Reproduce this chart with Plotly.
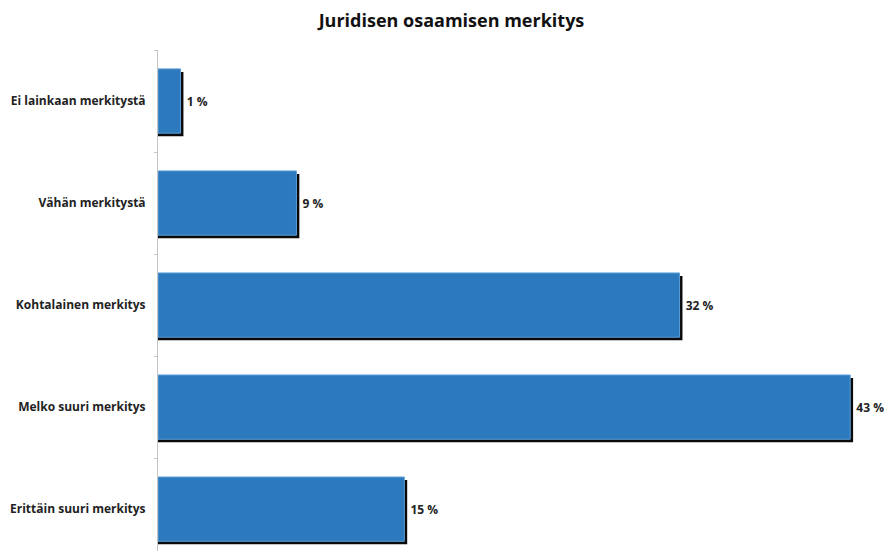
import plotly.graph_objects as go

categories = ["Ei lainkaan merkitystä", "Vähän merkitystä", "Kohtalainen merkitys",
              "Melko suuri merkitys", "Erittäin suuri merkitys"]
values = [1.4, 8.6, 32.4, 43.0, 15.3]
labels = ["1 %", "9 %", "32 %", "43 %", "15 %"]
title = "Juridisen osaamisen merkitys"

BAR_W = 0.63
SHADOW_DX = 0.18
SHADOW_DY = 0.03

fig = go.Figure()
# shadow (dark, offset down/right)
fig.add_trace(go.Bar(
    y=categories, x=[v + SHADOW_DX for v in values], orientation="h",
    width=BAR_W, offset=-BAR_W / 2 + SHADOW_DY,
    marker=dict(color="#0a0a0a", line=dict(width=0)),
    hoverinfo="skip", showlegend=False,
))
# main bars
fig.add_trace(go.Bar(
    y=categories, x=values, orientation="h",
    width=BAR_W, offset=-BAR_W / 2,
    marker=dict(color="#2c79bd", line=dict(color="#5e9fd8", width=1)),
    text=labels, texttemplate=" %{text}", textposition="outside", cliponaxis=False,
    textfont=dict(family="Open Sans", size=12, color="#222222", weight="bold"),
    showlegend=False,
))

# page body has an 8px margin, so the figure is sized to fill the window
fig.update_layout(
    width=887, height=543,
    barmode="overlay",
    plot_bgcolor="white", paper_bgcolor="white",
    margin=dict(l=150, r=11, t=42, b=0, autoexpand=False),
    title=dict(text=title, x=0.5, xref="container", xanchor="center",
               y=0.976, yref="container", yanchor="middle", automargin=False,
               font=dict(family="Open Sans", size=18, color="#111111", weight="bold")),
    xaxis=dict(range=[0, 45.1], visible=False, showgrid=False, zeroline=False,
               automargin=False),
    yaxis=dict(type="category", categoryorder="array", categoryarray=categories,
               range=[4.41, -0.5], showline=True, linecolor="#c4c4c4", linewidth=1,
               ticks="outside", tickson="boundaries", ticklen=3, tickcolor="#c4c4c4",
               showgrid=False, zeroline=False, ticklabelstandoff=9, automargin=False,
               tickfont=dict(family="Open Sans", size=12, color="#222222", weight="bold")),
)

fig.write_html("out.html")
